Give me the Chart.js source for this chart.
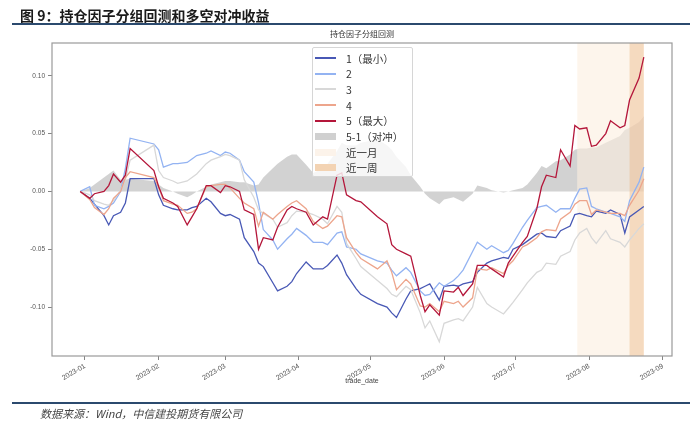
<!DOCTYPE html>
<html>
<head>
<meta charset="utf-8">
<script src="https://cdn.jsdelivr.net/npm/chart.js@4.4.0/dist/chart.umd.min.js"></script>
<style>
  body { margin: 0; background: #fff; }
  #wrap { position: relative; width: 700px; height: 426px; overflow: hidden; font-family: "Noto Sans CJK SC", sans-serif; }
  #c { position: absolute; left: 0; top: 0; }
  .rule { position: absolute; left: 12px; width: 678px; height: 2px; background: #2b4a6e; }
  #head { position: absolute; left: 20px; top: 5px; font-size: 14px; font-weight: 700; color: #1a1a1a; line-height: 20px; white-space: nowrap; }
  #foot { position: absolute; left: 40px; top: 405px; font-size: 11px; font-style: italic; color: #444; line-height: 16px; white-space: nowrap; }
  #ctitle { position: absolute; left: 52px; width: 620px; top: 29px; text-align: center; font-size: 8px; color: #333; line-height: 10px; }
  #xtitle { position: absolute; left: 52px; width: 620px; top: 377px; text-align: center; font: 7px "Liberation Sans"; color: #444; }
  #legend { position: absolute; left: 312px; top: 47px; width: 101px; height: 130px; box-sizing: border-box; border: 1px solid #d6d6d6; border-radius: 2px; background: rgba(255,255,255,0.8); }
  .row { position: absolute; left: 0; height: 14px; display: flex; align-items: center; font-size: 10.5px; color: #333; white-space: nowrap; }
  .sw { width: 21px; margin-left: 2px; margin-right: 10px; }
</style>
</head>
<body>
<div id="wrap">
  <canvas id="c" width="700" height="426"></canvas>
  <div id="head">图 9：持仓因子分组回测和多空对冲收益</div>
  <div class="rule" style="top:23px"></div>
  <div id="ctitle">持仓因子分组回测</div>
  <div id="legend"></div>
  <div id="xtitle">trade_date</div>
  <div class="rule" style="top:402px"></div>
  <div id="foot">数据来源：Wind，中信建投期货有限公司</div>
</div>
<script>
// trading dates (sampled) and cumulative returns per group
const dates = [
  "2022-12-30","2023-01-03","2023-01-05","2023-01-09","2023-01-11","2023-01-13","2023-01-16","2023-01-18","2023-01-20",
  "2023-01-30","2023-02-01","2023-02-03","2023-02-07","2023-02-09","2023-02-13","2023-02-15","2023-02-17","2023-02-21","2023-02-23","2023-02-27",
  "2023-03-01","2023-03-03","2023-03-07","2023-03-09","2023-03-13","2023-03-15","2023-03-17","2023-03-21","2023-03-23","2023-03-27","2023-03-29","2023-03-31",
  "2023-04-04","2023-04-07","2023-04-11","2023-04-13","2023-04-17","2023-04-19","2023-04-21","2023-04-25","2023-04-27",
  "2023-05-04","2023-05-08","2023-05-10","2023-05-12","2023-05-16","2023-05-18","2023-05-22","2023-05-24","2023-05-26","2023-05-30",
  "2023-06-01","2023-06-05","2023-06-07","2023-06-09","2023-06-13","2023-06-15","2023-06-19","2023-06-21","2023-06-26","2023-06-28","2023-06-30",
  "2023-07-04","2023-07-06","2023-07-10","2023-07-12","2023-07-14","2023-07-18","2023-07-20","2023-07-24","2023-07-26","2023-07-28","2023-07-31",
  "2023-08-02","2023-08-04","2023-08-08","2023-08-10","2023-08-14","2023-08-16","2023-08-18","2023-08-22","2023-08-24"
];

const g1 = [
  0, -0.006, -0.011, -0.021, -0.029, -0.021, -0.018, -0.010, 0.011,
  0.011, -0.003, -0.012, -0.015, -0.016, -0.016, -0.014, -0.013, -0.006, -0.009, -0.019,
  -0.021, -0.020, -0.024, -0.040, -0.052, -0.062, -0.065, -0.079, -0.086, -0.082, -0.078, -0.071,
  -0.061, -0.067, -0.067, -0.064, -0.055, -0.062, -0.072, -0.084, -0.089,
  -0.097, -0.100, -0.105, -0.109, -0.093, -0.086, -0.084, -0.082, -0.080, -0.094,
  -0.082, -0.081, -0.082, -0.080, -0.078, -0.070, -0.062, -0.060, -0.057, -0.058, -0.050,
  -0.046, -0.043, -0.037, -0.036, -0.039, -0.040, -0.034, -0.030, -0.020, -0.019, -0.021,
  -0.022, -0.017, -0.019, -0.016, -0.020, -0.036, -0.022, -0.016, -0.013
];
const g2 = [
  0, 0.004, -0.012, -0.015, -0.013, -0.010, 0.000, 0.020, 0.046,
  0.041, 0.036, 0.021, 0.024, 0.024, 0.025, 0.028, 0.031, 0.033, 0.035, 0.031,
  0.034, 0.033, 0.027, 0.017, 0.008, -0.010, -0.033, -0.042, -0.050, -0.041, -0.037, -0.032,
  -0.038, -0.044, -0.044, -0.046, -0.036, -0.035, -0.048, -0.050, -0.054,
  -0.060, -0.062, -0.068, -0.073, -0.066, -0.070, -0.086, -0.090, -0.089, -0.079,
  -0.082, -0.077, -0.073, -0.068, -0.052, -0.044, -0.050, -0.047, -0.053, -0.051, -0.045,
  -0.031, -0.025, -0.014, -0.013, -0.012, -0.018, -0.015, -0.015, -0.006, 0.002, 0.003,
  -0.013, -0.015, -0.018, -0.019, -0.022, -0.026, -0.008, 0.008, 0.021
];
const g3 = [
  0, -0.003, -0.008, -0.011, -0.012, -0.008, 0.001, 0.010, 0.027,
  0.040, 0.018, 0.012, 0.009, 0.007, 0.009, 0.012, 0.015, 0.024, 0.027, 0.030,
  0.032, 0.031, 0.027, 0.010, -0.005, -0.016, -0.019, -0.024, -0.031, -0.027, -0.021, -0.017,
  -0.018, -0.020, -0.024, -0.028, -0.013, -0.018, -0.045, -0.058, -0.065,
  -0.077, -0.084, -0.089, -0.091, -0.082, -0.085, -0.105, -0.118, -0.112, -0.130,
  -0.114, -0.111, -0.110, -0.112, -0.100, -0.083, -0.097, -0.100, -0.106, -0.101, -0.096,
  -0.085, -0.079, -0.070, -0.068, -0.062, -0.063, -0.056, -0.052, -0.042, -0.036, -0.032,
  -0.040, -0.045, -0.034, -0.041, -0.044, -0.048, -0.042, -0.032, -0.028
];
const g4 = [
  0, -0.007, -0.014, -0.020, -0.015, -0.006, 0.000, 0.012, 0.017,
  0.012, 0.004, -0.008, -0.011, -0.012, -0.019, -0.018, -0.015, 0.004, 0.005, 0.006,
  0.006, 0.003, -0.006, -0.010, -0.015, -0.030, -0.018, -0.024, -0.020, -0.013, -0.010, -0.008,
  -0.015, -0.026, -0.032, -0.030, -0.021, -0.022, -0.040, -0.053, -0.058,
  -0.067, -0.060, -0.070, -0.085, -0.076, -0.080, -0.099, -0.100, -0.097, -0.104,
  -0.095, -0.097, -0.095, -0.100, -0.092, -0.067, -0.068, -0.066, -0.071, -0.064, -0.060,
  -0.048, -0.046, -0.040, -0.035, -0.033, -0.034, -0.024, -0.018, -0.011, -0.008, -0.008,
  -0.020, -0.016, -0.018, -0.019, -0.019, -0.021, -0.012, 0.001, 0.011
];
const g5 = [
  0, -0.006, -0.002, 0.000, 0.005, 0.015, 0.008, 0.014, 0.037,
  0.018, 0.004, -0.006, -0.010, -0.013, -0.029, -0.022, -0.015, 0.005, 0.005, -0.001,
  0.005, 0.004, 0.000, -0.016, -0.020, -0.050, -0.040, -0.042, -0.031, -0.016, -0.013, -0.015,
  -0.018, -0.029, -0.022, -0.024, 0.014, 0.016, -0.003, -0.008, -0.009,
  -0.022, -0.028, -0.046, -0.050, -0.054, -0.056, -0.090, -0.104, -0.098, -0.107,
  -0.086, -0.087, -0.083, -0.090, -0.080, -0.064, -0.064, -0.067, -0.074, -0.062, -0.056,
  -0.044, -0.039, -0.015, 0.004, 0.014, 0.012, 0.036, 0.022, 0.057, 0.054, 0.055,
  0.039, 0.040, 0.050, 0.061, 0.055, 0.057, 0.079, 0.098, 0.116
];
const hedge = [
  0, 0.003, 0.006, 0.012, 0.015, 0.018, 0.010, 0.010, 0.011,
  0.009, 0.006, 0.003, 0.000, -0.002, -0.005, -0.003, 0.000, 0.004, 0.006, 0.008,
  0.009, 0.009, 0.008, 0.008, 0.005, 0.006, 0.012, 0.020, 0.024, 0.030, 0.032, 0.032,
  0.023, 0.016, 0.020, 0.024, 0.035, 0.042, 0.040, 0.040, 0.042,
  0.045, 0.040, 0.036, 0.030, 0.021, 0.014, 0.004, -0.002, -0.006, -0.011,
  -0.007, -0.005, -0.007, -0.009, -0.002, 0.005, 0.003, 0.001, -0.001, 0.000, 0.001,
  0.003, 0.006, 0.016, 0.022, 0.020, 0.026, 0.027, 0.032, 0.036, 0.037, 0.037,
  0.038, 0.038, 0.042, 0.044, 0.048, 0.053, 0.055, 0.060, 0.065
];

const groupNames = ["1（最小）", "2", "3", "4", "5（最大）"];
const groupColors = ["#4858b5", "#93b3f2", "#d8d8d8", "#eda58c", "#b4163a"];
const hedgeName = "5-1（对冲）";
const monthBand = ["2023-07-27", "2023-08-24"];
const weekBand = ["2023-08-18", "2023-08-24"];
const tickLabels = ["2023-01","2023-02","2023-03","2023-04","2023-05","2023-06","2023-07","2023-08","2023-09"];
const yTicks = [-0.10, -0.05, 0.00, 0.05, 0.10];

function dayNum(s) {
  const p = s.split("-").map(Number);
  return (Date.UTC(p[0], p[1] - 1, p[2]) - Date.UTC(2023, 0, 1)) / 86400000;
}

const xs = dates.map(dayNum);
const allY = [].concat(g1, g2, g3, g4, g5, hedge);
// matplotlib style 5% margins
const xSpan = xs[xs.length - 1] - xs[0];
const xMin = xs[0] - 0.05 * xSpan, xMax = xs[xs.length - 1] + 0.05 * xSpan;
const yLo = Math.min(...allY), yHi = Math.max(...allY);
const yMin = yLo - 0.05 * (yHi - yLo), yMax = yHi + 0.05 * (yHi - yLo);

const bands = [
  { name: "近一月", range: monthBand, color: "rgba(252,238,224,0.6)", swatch: "#fcf3ea" },
  { name: "近一周", range: weekBand, color: "rgba(236,180,130,0.42)", swatch: "#f3d3b3" }
];

const pts = arr => arr.map((v, i) => ({ x: xs[i], y: v }));
const groups = [g1, g2, g3, g4, g5];

const datasets = groups.map((g, i) => ({
  label: groupNames[i],
  data: pts(g),
  borderColor: groupColors[i],
  borderWidth: 1.3,
  pointRadius: 0,
  tension: 0,
  fill: false,
  order: 4 - i
}));
datasets.push({
  label: hedgeName,
  data: pts(hedge),
  borderColor: "rgba(0,0,0,0)",
  borderWidth: 0,
  backgroundColor: "rgba(195,195,195,0.75)",
  pointRadius: 0,
  fill: "origin",
  order: 10
});
const hedgeIndex = datasets.length - 1;

const framePlugin = {
  id: "framePlugin",
  afterDatasetDraw(chart, args) {
    if (args.index !== hedgeIndex) return;
    const { ctx, chartArea: a, scales: { x } } = chart;
    ctx.save();
    ctx.beginPath();
    ctx.rect(a.left, a.top, a.right - a.left, a.bottom - a.top);
    ctx.clip();
    bands.forEach(b => {
      const x0 = x.getPixelForValue(dayNum(b.range[0]));
      const x1 = x.getPixelForValue(dayNum(b.range[1]));
      ctx.fillStyle = b.color;
      ctx.fillRect(x0, a.top, x1 - x0, a.bottom - a.top);
    });
    ctx.restore();
  },
  afterDraw(chart) {
    const { ctx, chartArea: a } = chart;
    ctx.save();
    ctx.strokeStyle = "#9a9a9a";
    ctx.lineWidth = 1.2;
    ctx.strokeRect(a.left, a.top, a.right - a.left, a.bottom - a.top);
    ctx.restore();
  }
};

const tickGrid = { drawOnChartArea: false, drawTicks: true, tickLength: 4, color: "#666", lineWidth: 0.8 };

new Chart(document.getElementById("c"), {
  type: "line",
  data: { datasets: datasets },
  options: {
    responsive: false,
    animation: false,
    devicePixelRatio: 1,
    layout: { padding: { left: 0, top: 43, right: 28, bottom: 0 } },
    plugins: { legend: { display: false }, tooltip: { enabled: false } },
    scales: {
      x: {
        type: "linear",
        min: xMin,
        max: xMax,
        afterBuildTicks: s => { s.ticks = tickLabels.map(t => ({ value: dayNum(t + "-01") })); },
        afterFit: s => { s.height = 70; },
        ticks: {
          autoSkip: false,
          minRotation: 30,
          maxRotation: 30,
          padding: 2,
          color: "#555",
          font: { family: "Liberation Sans", size: 7 },
          callback: (v, i) => tickLabels[i]
        },
        grid: tickGrid,
        border: { display: false }
      },
      y: {
        min: yMin,
        max: yMax,
        afterBuildTicks: s => { s.ticks = yTicks.map(v => ({ value: v })); },
        afterFit: s => { s.width = 52; },
        ticks: {
          padding: 3,
          color: "#555",
          font: { family: "Liberation Sans", size: 6.5 },
          callback: v => v.toFixed(2)
        },
        grid: tickGrid,
        border: { display: false }
      }
    }
  },
  plugins: [framePlugin]
});

// legend inside the plot, like the original
const legend = document.getElementById("legend");
const items = groupNames.map((n, i) => ({ name: n, kind: "line", color: groupColors[i] }))
  .concat([{ name: hedgeName, kind: "patch", color: "#d0d0d0" }])
  .concat(bands.map(b => ({ name: b.name, kind: "patch", color: b.swatch })));
items.forEach((it, i) => {
  const row = document.createElement("div");
  row.className = "row";
  row.style.top = (3 + i * 15.7) + "px";
  const sw = document.createElement("span");
  sw.className = "sw";
  if (it.kind === "line") {
    sw.style.height = "2px";
    sw.style.background = it.color;
  } else {
    sw.style.height = "7px";
    sw.style.background = it.color;
  }
  const tx = document.createElement("span");
  tx.textContent = it.name;
  row.appendChild(sw);
  row.appendChild(tx);
  legend.appendChild(row);
});
</script>
</body>
</html>
